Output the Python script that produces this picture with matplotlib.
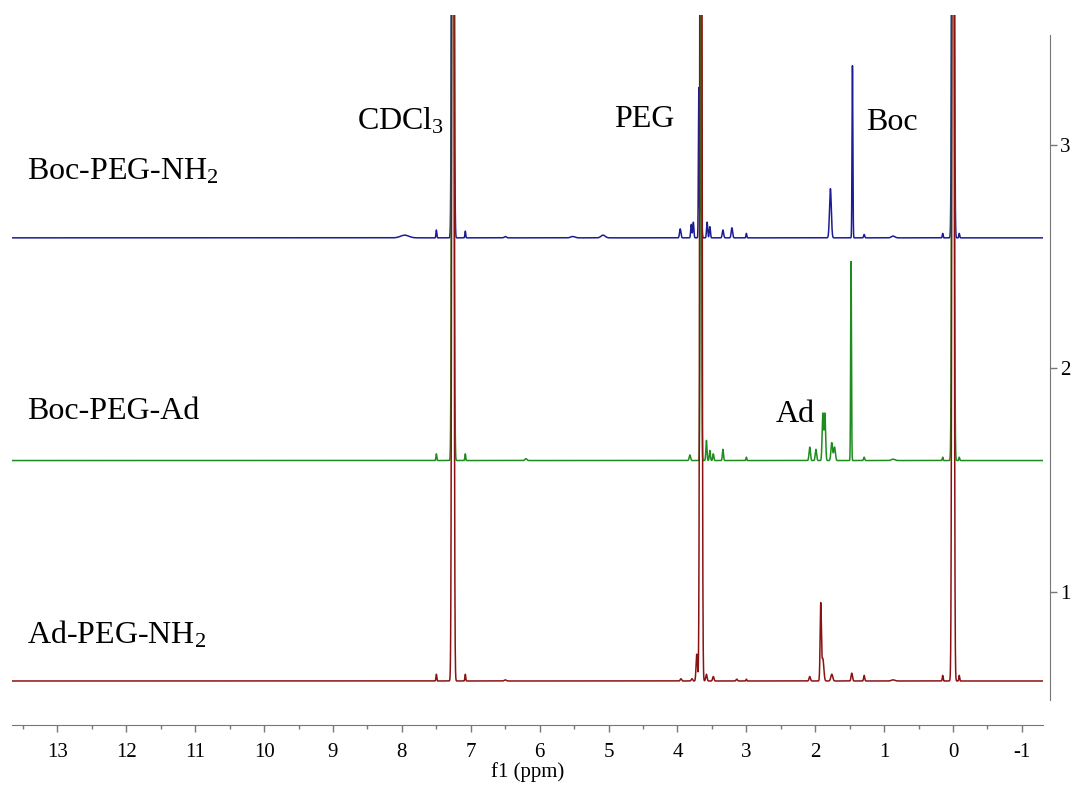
import numpy as np
import matplotlib.pyplot as plt
from matplotlib.ticker import MultipleLocator

plt.rcParams['font.family'] = ['Liberation Serif', 'DejaVu Serif']
plt.rcParams['mathtext.fontset'] = 'custom'
plt.rcParams['mathtext.rm'] = 'Liberation Serif'
plt.rcParams['mathtext.it'] = 'Liberation Serif'

# peak lists: shift (ppm), height (a.u.), half width (ppm)
# 7.26 / 3.66 / 0.00 go far off scale
boc_nh2_shift = [7.96, 7.50, 7.26, 7.08, 6.50, 5.52, 5.08, 3.96, 3.80, 3.77, 3.69, 3.66, 3.57,
                 3.53, 3.34, 3.21, 3.00, 1.78, 1.46, 1.29, 0.87, 0.15, 0.00, -0.09]
boc_nh2_height = [0.012, 0.035, 8, 0.03, 0.006, 0.006, 0.012, 0.04, 0.06, 0.07, 0.67, 0.25, 0.07,
                  0.05, 0.035, 0.045, 0.02, 0.22, 0.77, 0.015, 0.008, 0.02, 8, 0.02]
boc_nh2_width = [0.06, 0.006, 0.012, 0.006, 0.015, 0.03, 0.03, 0.01, 0.008, 0.008, 0.006, 0.01, 0.008,
                 0.008, 0.01, 0.01, 0.006, 0.013, 0.006, 0.008, 0.025, 0.006, 0.012, 0.006]

boc_ad_shift = [7.50, 7.26, 7.08, 6.20, 3.82, 3.66, 3.58, 3.53, 3.48, 3.34, 3.00, 2.08, 1.99,
                1.89, 1.86, 1.76, 1.72, 1.48, 1.29, 0.87, 0.15, 0.00, -0.09]
boc_ad_height = [0.03, 8, 0.03, 0.008, 0.025, 3.0, 0.09, 0.045, 0.03, 0.05, 0.015, 0.06, 0.05,
                 0.21, 0.21, 0.08, 0.06, 0.89, 0.015, 0.006, 0.015, 8, 0.015]
boc_ad_width = [0.006, 0.012, 0.006, 0.015, 0.01, 0.008, 0.008, 0.008, 0.008, 0.008, 0.006, 0.01, 0.01,
                0.01, 0.01, 0.012, 0.012, 0.006, 0.008, 0.025, 0.006, 0.012, 0.006]

ad_nh2_shift = [7.50, 7.26, 7.08, 6.50, 3.95, 3.79, 3.72, 3.66, 3.58, 3.48, 3.14, 3.00, 2.08,
                1.92, 1.89, 1.76, 1.47, 1.29, 0.87, 0.15, 0.00, -0.09]
ad_nh2_height = [0.03, 8, 0.03, 0.005, 0.01, 0.01, 0.12, 8, 0.03, 0.02, 0.008, 0.008, 0.02,
                 0.34, 0.1, 0.03, 0.035, 0.025, 0.005, 0.025, 8, 0.025]
ad_nh2_width = [0.006, 0.012, 0.006, 0.015, 0.01, 0.01, 0.01, 0.012, 0.01, 0.01, 0.01, 0.006, 0.01,
                0.009, 0.014, 0.014, 0.01, 0.008, 0.025, 0.006, 0.012, 0.006]

names = [r'Boc-PEG-NH$_2$', 'Boc-PEG-Ad', r'Ad-PEG-NH$_2$']
offsets = [2.584, 1.588, 0.602]
name_y = [2.843, 1.775, 0.77]
colors = ['#1c1c96', '#1e8c1e', '#8b1212']

labels = ['CDCl$_3$', 'PEG', 'Boc', 'Ad']
label_pos = [(8.65, 3.067), (4.92, 3.08), (1.26, 3.066), (2.58, 1.76)]


def spectrum(x, shifts, heights, widths):
    y = np.zeros_like(x)
    for s, h, w in zip(shifts, heights, widths):
        y += h * np.exp(-0.5 * ((x - s) / w) ** 2)
    return y


ppm = np.linspace(13.66, -1.31, 30000)
peaks = [(boc_nh2_shift, boc_nh2_height, boc_nh2_width),
         (boc_ad_shift, boc_ad_height, boc_ad_width),
         (ad_nh2_shift, ad_nh2_height, ad_nh2_width)]

fig = plt.figure(figsize=(10.72, 7.91), dpi=100)
ax = fig.add_axes([0.0112, 0.0834, 0.962, 0.898])

for (s, h, w), off, c in zip(peaks, offsets, colors):
    ax.plot(ppm, off + spectrum(ppm, s, h, w), color=c, lw=1.1)

ax.set_xlim(13.66, -1.31)
ax.set_ylim(0.405, 3.582)

for sp in ['top', 'left']:
    ax.spines[sp].set_visible(False)
ax.spines['bottom'].set_color('#777777')
ax.spines['right'].set_color('#777777')
ax.spines['right'].set_position(('outward', 5))
ax.spines['right'].set_bounds(0.517, 3.49)

ax.xaxis.set_minor_locator(MultipleLocator(0.5))
ax.set_xticks(np.arange(13, -2, -1))
ax.set_xticklabels([str(v) for v in range(13, -2, -1)])
ax.tick_params(axis='x', which='major', direction='out', length=5, width=1,
               color='#777777', labelsize=15, pad=8)
ax.tick_params(axis='x', which='minor', direction='out', length=3, width=1, color='#777777')

ax.yaxis.tick_right()
ax.set_yticks([1, 2, 3])
ax.tick_params(axis='y', direction='out', length=5, width=1, color='#777777',
               labelsize=15, pad=2)

ax.set_xlabel('f1 (ppm)', fontsize=15, labelpad=0)

for name, ty in zip(names, name_y):
    ax.text(13.44, ty, name, fontsize=23, ha='left', va='baseline')

for txt, (x, y) in zip(labels, label_pos):
    ax.text(x, y, txt, fontsize=23, ha='left', va='baseline')

fig.savefig('out.png', dpi=100)
